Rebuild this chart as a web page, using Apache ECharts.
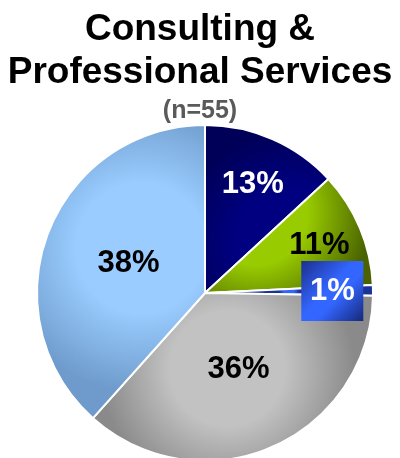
<!DOCTYPE html>
<html>
<head>
<meta charset="utf-8">
<script src="https://cdn.jsdelivr.net/npm/echarts@6/dist/echarts.min.js"></script>
<style>
  html, body { margin: 0; padding: 0; background: #fff; }
  #chart { width: 400px; height: 458px; }
</style>
</head>
<body>
<div id="chart"></div>
<script>
// Share of respondents by answer, consulting & professional services segment
const categories = ['Segment A', 'Segment B', 'Segment C', 'Segment D', 'Segment E'];
const shares = [13, 11, 1, 36, 38];
const sampleSize = 55;

// Slice fills: [light, dark] and the radial shading [cx, cy, r, lightStop]
const sliceColors = [
  ['#000080', '#000058'],
  ['#99cc00', '#4a6300'],
  ['#3366ff', '#1a3399'],
  ['#c2c2c2', '#8a8a8a'],
  ['#9accff', '#6e9bcb']
];
const sliceShade = [
  [0.7, 0.7, 0.9, 0.5],
  [0.3, 0.3, 1.0, 0.45],
  [0.5, 0.5, 0.8, 0.5],
  [0.48, 0.45, 0.75, 0.45],
  [0.62, 0.42, 0.85, 0.45]
];
const labelColors = ['#ffffff', '#000000', '#ffffff', '#000000', '#000000'];
// How far out along the slice each label sits, as a fraction of the radius
const labelRadius = [0.69, 0.72, 0.74, 0.48, 0.47];

const R = 168;
const FONT = '"Liberation Sans", Arial, sans-serif';

const total = shares.reduce((a, b) => a + b, 0);
let acc = 0;
const data = shares.map((v, i) => {
  const mid = (acc + v / 2) / total * Math.PI * 2;
  acc += v;
  const shift = (labelRadius[i] - 0.5) * R;
  const dx = Math.sin(mid) * shift;
  const dy = -Math.cos(mid) * shift;
  const s = sliceShade[i];
  const item = {
    name: categories[i],
    value: v,
    itemStyle: {
      color: new echarts.graphic.RadialGradient(s[0], s[1], s[2], [
        { offset: 0, color: sliceColors[i][0] },
        { offset: s[3], color: sliceColors[i][0] },
        { offset: 1, color: sliceColors[i][1] }
      ])
    },
    label: {
      color: labelColors[i],
      offset: [dx, dy]
    }
  };
  if (i === 2) {
    item.label.backgroundColor = new echarts.graphic.LinearGradient(0, 0, 1, 1, [
      { offset: 0, color: '#1c2f8c' },
      { offset: 0.45, color: '#3366ff' },
      { offset: 0.6, color: '#3366ff' },
      { offset: 1, color: '#17287a' }
    ]);
    item.label.width = 62;
    item.label.height = 60;
    item.label.align = 'center';
    item.label.verticalAlign = 'middle';
    item.label.lineHeight = 60;
  }
  return item;
});

const chart = echarts.init(document.getElementById('chart'), null, { renderer: 'canvas' });
chart.setOption({
  animation: false,
  title: {
    text: 'Consulting &\nProfessional Services',
    subtext: '(n=' + sampleSize + ')',
    left: 'center',
    top: 3,
    itemGap: 5,
    textStyle: {
      fontFamily: FONT,
      fontWeight: 'bold',
      fontSize: 37,
      lineHeight: 43,
      color: '#000'
    },
    subtextStyle: {
      fontFamily: FONT,
      fontWeight: 'bold',
      fontSize: 25,
      color: '#5a5a5a'
    }
  },
  series: [{
    type: 'pie',
    center: [205, 293],
    radius: [0, R],
    startAngle: 90,
    clockwise: true,
    avoidLabelOverlap: false,
    labelLayout: { hideOverlap: false },
    itemStyle: { borderColor: '#ffffff', borderWidth: 2 },
    label: {
      show: true,
      position: 'inside',
      formatter: '{c}%',
      fontFamily: FONT,
      fontWeight: 'bold',
      fontSize: 31
    },
    labelLine: { show: false },
    emphasis: { disabled: true },
    data: data
  }]
});
</script>
</body>
</html>
